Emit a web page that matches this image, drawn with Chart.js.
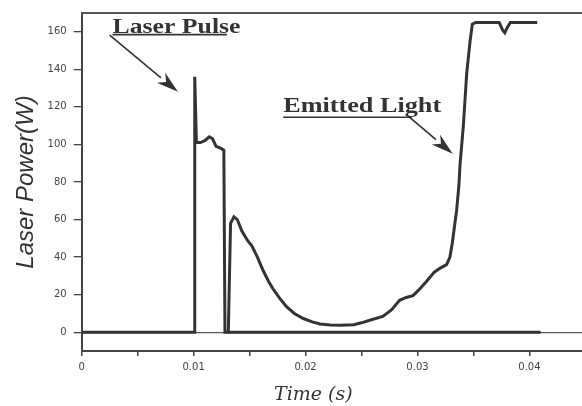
<!DOCTYPE html>
<html><head><meta charset="utf-8">
<script src="https://cdn.jsdelivr.net/npm/chart.js@4"></script>
<style>html,body{margin:0;padding:0;background:#fff;overflow:hidden}#wrap{width:582px;height:406px}</style>
</head><body><div id="wrap"><canvas id="c" width="582" height="406"></canvas></div>
<script>
// ---- data ----
const laserTime  = [0, 0.0101, 0.0101, 0.01025, 0.0106, 0.0110, 0.0114, 0.0117, 0.0120, 0.0124, 0.0127, 0.0128, 0.0410];
const laserPower = [0, 0, 136, 101, 101, 102, 104, 103, 99, 98, 97, 0, 0];

const lightTime  = [0.0131, 0.0133, 0.0136, 0.0139, 0.0143, 0.0148, 0.0152, 0.0157, 0.0162, 0.0167, 0.0171, 0.0177, 0.0183, 0.0190, 0.0198, 0.0206, 0.0213, 0.0222, 0.0231, 0.0243, 0.0250, 0.0258, 0.0269, 0.0277, 0.0284, 0.0290, 0.0296, 0.0302, 0.0308, 0.0315, 0.0320, 0.0326, 0.0329, 0.0331, 0.0333, 0.0335, 0.0337, 0.0338, 0.0341, 0.0344, 0.0347, 0.0349, 0.0352, 0.0373, 0.0376, 0.0378, 0.0380, 0.0383, 0.0407];
const lightPower = [0, 58, 61.5, 60, 54, 49, 46, 40, 33, 27, 23, 18, 13.6, 10, 7.3, 5.5, 4.4, 3.9, 3.7, 4.0, 5, 6.5, 8.4, 12, 17, 18.5, 19.5, 23, 27, 32, 34, 36, 40, 47, 56, 65, 78, 89, 110, 138, 155, 164, 165, 165, 161, 159.5, 162, 165, 165];

const xTickValues = [0, 0.005, 0.01, 0.015, 0.02, 0.025, 0.03, 0.035, 0.04];
const xTickLabels = ['0', '', '0.01', '', '0.02', '', '0.03', '', '0.04'];
const yTickValues = [0, 20, 40, 60, 80, 100, 120, 140, 160];
const yTickLabels = ['0', '20', '40', '60', '80', '100', '120', '140', '160'];

const xTitle = 'Time (s)';
const yTitle = 'Laser Power(W)';
const laserLabel = 'Laser Pulse';
const lightLabel = 'Emitted Light';

// ---- annotation placement (data coordinates) ----
const laserNote = {text: laserLabel, x: 0.00275, y: 159.5, width: 128, lineEnd: 0.01297, lineY: 158.5, from: [0.0025, 158.2], to: [0.0086, 128]};
const lightNote = {text: lightLabel, x: 0.0180, y: 117.5, width: 158, lineEnd: 0.0295, lineY: 114.5, from: [0.0292, 115], to: [0.03315, 95]};

const ink = '#333';

function toPts(xs, ys) { return xs.map((x, i) => ({x: x, y: ys[i]})); }

const overlay = {
  id: 'overlay',
  afterDraw(chart) {
    const ctx = chart.ctx, a = chart.chartArea;
    const xs = chart.scales.x, ys = chart.scales.y;
    ctx.save();
    // top frame line
    ctx.strokeStyle = '#555'; ctx.lineWidth = 2;
    ctx.beginPath(); ctx.moveTo(a.left, a.top); ctx.lineTo(a.right, a.top); ctx.stroke();

    function note(n) {
      const tx = xs.getPixelForValue(n.x), ty = ys.getPixelForValue(n.y);
      ctx.font = 'bold 21px "Liberation Serif"';
      ctx.fillStyle = ink;
      ctx.textBaseline = 'alphabetic';
      const w = ctx.measureText(n.text).width;
      ctx.save();
      ctx.translate(tx, ty);
      ctx.scale(n.width / w, 1);
      ctx.fillText(n.text, 0, 0);
      ctx.restore();
      // underline
      const uy = ys.getPixelForValue(n.lineY);
      ctx.strokeStyle = ink; ctx.lineWidth = 1.6;
      ctx.beginPath(); ctx.moveTo(tx, uy); ctx.lineTo(xs.getPixelForValue(n.lineEnd), uy); ctx.stroke();
      // arrow
      const x1 = xs.getPixelForValue(n.from[0]), y1 = ys.getPixelForValue(n.from[1]);
      const x2 = xs.getPixelForValue(n.to[0]), y2 = ys.getPixelForValue(n.to[1]);
      const ang = Math.atan2(y2 - y1, x2 - x1);
      const L = 22, W = 6.5;
      const bx = x2 - L * Math.cos(ang), by = y2 - L * Math.sin(ang);
      ctx.beginPath(); ctx.moveTo(x1, y1); ctx.lineTo(bx, by); ctx.stroke();
      ctx.beginPath();
      ctx.moveTo(x2, y2);
      ctx.lineTo(bx + W * Math.sin(ang), by - W * Math.cos(ang));
      ctx.lineTo(bx + 0.3 * L * Math.cos(ang), by + 0.3 * L * Math.sin(ang));
      ctx.lineTo(bx - W * Math.sin(ang), by + W * Math.cos(ang));
      ctx.closePath(); ctx.fill();
    }
    note(laserNote);
    note(lightNote);

    // x axis title
    ctx.font = 'italic 19px "DejaVu Serif"';
    ctx.fillStyle = ink;
    ctx.textAlign = 'center';
    ctx.textBaseline = 'alphabetic';
    ctx.fillText(xTitle, xs.getPixelForValue(0.0207), a.bottom + 49);
    ctx.restore();
  }
};

new Chart(document.getElementById('c'), {
  type: 'scatter',
  data: {
    datasets: [
      {label: laserLabel, data: toPts(laserTime, laserPower), showLine: true, borderColor: ink, borderWidth: 3, pointRadius: 0, tension: 0, fill: false},
      {label: lightLabel, data: toPts(lightTime, lightPower), showLine: true, borderColor: ink, borderWidth: 3, pointRadius: 0, tension: 0, fill: false}
    ]
  },
  options: {
    responsive: false,
    animation: false,
    layout: {padding: {top: 6, left: 0, right: 0, bottom: 0}},
    plugins: {legend: {display: false}, tooltip: {enabled: false}},
    scales: {
      x: {
        type: 'linear', min: 0, max: 0.0447,
        afterBuildTicks: s => { s.ticks = xTickValues.map(v => ({value: v})); },
        afterFit: s => { s.height = 55; },
        ticks: {autoSkip: false, maxRotation: 0, padding: 5, color: '#444', font: {family: 'DejaVu Sans', size: 10},
                callback: (v, i) => xTickLabels[i]},
        grid: {drawOnChartArea: false, tickLength: 5, tickColor: '#444', lineWidth: 1.5},
        border: {color: '#444', width: 2}
      },
      y: {
        type: 'linear', min: -10, max: 170,
        afterBuildTicks: s => { s.ticks = yTickValues.map(v => ({value: v})); },
        afterFit: s => { s.width = 81.7; },
        ticks: {padding: 7, color: '#444', font: {family: 'DejaVu Sans', size: 10},
                callback: (v, i) => yTickLabels[i]},
        grid: {drawOnChartArea: true, tickLength: 8, tickColor: '#444', lineWidth: 1.3,
               color: c => (c.tick && c.tick.value === 0) ? 'rgba(70,70,70,0.9)' : 'rgba(0,0,0,0)'},
        border: {color: '#444', width: 2},
        title: {display: true, text: yTitle, color: ink, font: {family: 'Liberation Sans', style: 'italic', size: 24}, padding: {top: 12, bottom: 0}}
      }
    }
  },
  plugins: [overlay]
});
</script>
</body></html>
